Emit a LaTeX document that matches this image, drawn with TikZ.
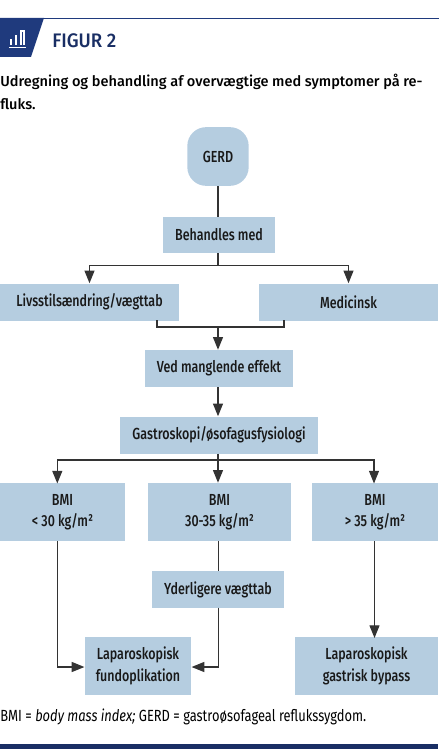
\documentclass[tikz,border=0pt]{standalone}
\usepackage{fontspec}
\setmainfont{Fira Sans}
\newfontfamily\condfont[FakeStretch=0.8]{Fira Sans}
\newfontfamily\boxfont[FakeStretch=0.78]{Fira Sans Medium}
\newfontfamily\headfont[FakeStretch=0.95]{Fira Sans Medium}
\newfontfamily\capfont{Fira Sans Medium}
\usetikzlibrary{arrows.meta}
\definecolor{boxblue}{HTML}{B5CDE0}
\definecolor{navy}{HTML}{1F3A7D}
\tikzset{
  flowbox/.style={fill=boxblue,inner sep=0pt,align=center,font=\boxfont\fontsize{12}{16}\selectfont,text=black!90},
  flowline/.style={draw=black!80,line width=0.85pt},
  flowarrow/.style={flowline,-{Triangle[length=9.5pt,width=7.5pt]}},
}
\begin{document}
\begin{tikzpicture}[x=0.75pt,y=-0.75pt]
  \useasboundingbox (0,0) rectangle (440,755);
  % header
  \draw[navy,line width=0.7pt] (0,18) -- (439,18);
  \fill[navy] (0,18) -- (44,18) -- (31,57) -- (0,57) -- cycle;
  \fill[white] (9,47) rectangle (26,48.5);
  \fill[white] (10,39) rectangle (12,45);
  \fill[white] (15,35) rectangle (17,45);
  \fill[white] (20,30) rectangle (25,45);
  \fill[navy] (22,32) rectangle (23,45);
  \node[anchor=base west,inner sep=0pt,text=navy!80!black,font=\headfont\fontsize{14.7}{16}\selectfont] (title) at (52,47.5) {FIGUR 2};
  \node[anchor=base west,inner sep=0pt,font=\capfont\fontsize{10.9}{12}\selectfont] (cap1) at (0,87) {Udregning og behandling af overvægtige med symptomer på re-};
  \node[anchor=base west,inner sep=0pt,font=\capfont\fontsize{10.9}{12}\selectfont] (cap2) at (0,110) {fluks.};
  % boxes
  \node[flowbox,rounded corners=14pt,minimum width=46pt,minimum height=44pt] (gerd) at (218,156.5) {GERD};
  \node[flowbox,minimum width=84pt,minimum height=27pt] (behandles) at (219,235) {Behandles med};
  \node[flowbox,minimum width=134.25pt,minimum height=27.75pt] (livsstil) at (89.5,302) {Livsstilsændring/vægttab};
  \node[flowbox,minimum width=134.25pt,minimum height=27.75pt] (medicinsk) at (348.5,302) {Medicinsk};
  \node[flowbox,minimum width=111pt,minimum height=27.75pt] (effekt) at (219,368.5) {Ved manglende effekt};
  \node[flowbox,minimum width=148.5pt,minimum height=27.75pt] (gastro) at (219,435) {Gastroskopi/øsofagusfysiologi};
  \node[flowbox,minimum width=94pt,minimum height=43.5pt] (bmia) at (62.5,512) {BMI\\< 30 kg/m²};
  \node[flowbox,minimum width=107.25pt,minimum height=43.5pt] (bmib) at (219.5,512) {BMI\\30-35 kg/m²};
  \node[flowbox,minimum width=94.5pt,minimum height=43.5pt] (bmic) at (375,512) {BMI\\> 35 kg/m²};
  \node[flowbox,minimum width=99pt,minimum height=27.75pt] (vaegttab) at (218,589.5) {Yderligere vægttab};
  \node[flowbox,minimum width=80pt,minimum height=43.5pt] (fundo) at (138,666) {Laparoskopisk\\fundoplikation};
  \node[flowbox,minimum width=107.25pt,minimum height=43.5pt] (bypass) at (366.5,666) {Laparoskopisk\\gastrisk bypass};
  % connectors
  \draw[flowline] (gerd.south) -- (gerd.south |- behandles.north);
  \coordinate (split) at (218,265.5);
  \draw[flowline] (behandles.south -| split) -- (split);
  \draw[flowarrow] (split) -| (livsstil.north);
  \draw[flowarrow] (split) -| (medicinsk.north);
  \draw[flowline] (157,320) |- (284,327) -- (284,320);
  \coordinate (join) at (218,327);
  \draw[flowarrow] (join) -- (join |- effekt.north);
  \draw[flowarrow] (effekt.south -| join) -- (join |- gastro.north);
  \coordinate (fork) at (218,460);
  \draw[flowline] (gastro.south -| fork) -- (fork);
  \draw[flowarrow] (fork) -| (57.3,483.5);
  \draw[flowarrow] (fork) -- (fork |- bmib.north);
  \draw[flowarrow] (fork) -| (374,483.5);
  \draw[flowarrow] (57.5,541) |- (fundo.west |- 0,667);
  \draw[flowline] (218.5,541) -- (218.5,571);
  \draw[flowarrow] (218.5,607.5) |- (fundo.east |- 0,667);
  \draw[flowarrow] (374.5,541) -- (374.5,638);
  % footnote
  \node[anchor=base west,inner sep=0pt,font=\condfont\fontsize{12.1}{12}\selectfont] (note) at (0,721) {BMI = \textit{body mass index;} GERD = gastroøsofageal reflukssygdom.};
  \fill[navy!80!black] (0,744) rectangle (438,748.5);
\end{tikzpicture}
\end{document}
